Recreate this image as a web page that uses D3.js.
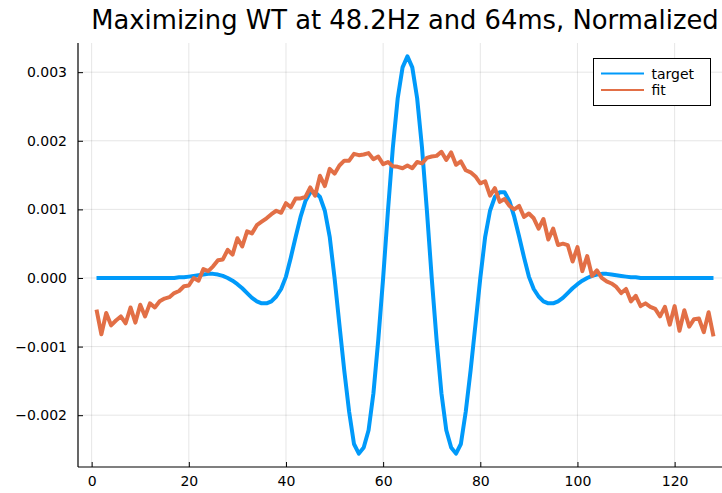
<!DOCTYPE html>
<html>
<head>
<meta charset="utf-8">
<script src="https://cdn.jsdelivr.net/npm/d3@7"></script>
<style>
  html, body { margin: 0; padding: 0; background: #fff; }
  svg { display: block; }
  text { font-family: "DejaVu Sans", sans-serif; fill: #000; }
</style>
</head>
<body>
<div id="chart"></div>
<script>
const titleText = "Maximizing WT at 48.2Hz and 64ms, Normalized";
const seriesNames = ["target", "fit"];
const seriesColors = ["#009AFA", "#E26F46"];

const target = [
  0, 0, 0, 0, 0, 0, 0, 0, 0, 0,
  0, 0, 0, 0, 0, 0, 0, 0.00001, 0.00001, 0.00002,
  0.00003, 0.00004, 0.00005, 0.00006, 0.00006, 0.00005, 0.00003, 0.0, -0.00004, -0.00009,
  -0.00015, -0.00022, -0.00029, -0.00034, -0.00037, -0.00037, -0.00034, -0.00027, -0.00016, 0.00002,
  0.0003, 0.0006, 0.00089, 0.00112, 0.00125, 0.00125, 0.00118, 0.00098, 0.0006, 0.0,
  -0.00068, -0.00135, -0.00195, -0.00242, -0.00256, -0.00247, -0.00222, -0.00168, -0.0009, 0.0,
  0.00099, 0.0019, 0.00262, 0.00307, 0.00323, 0.00307, 0.00262, 0.0019, 0.00099, 0.0,
  -0.0009, -0.00168, -0.00222, -0.00247, -0.00256, -0.00242, -0.00195, -0.00135, -0.00068, 0.0,
  0.0006, 0.00098, 0.00118, 0.00125, 0.00125, 0.00112, 0.00089, 0.0006, 0.0003, 0.00002,
  -0.00016, -0.00027, -0.00034, -0.00037, -0.00037, -0.00034, -0.00029, -0.00022, -0.00015, -0.00009,
  -0.00004, 0.0, 0.00003, 0.00005, 0.00006, 0.00006, 0.00005, 0.00004, 0.00003, 0.00002,
  0.00001, 0.00001, 0, 0, 0, 0, 0, 0, 0, 0,
  0, 0, 0, 0, 0, 0, 0, 0
];

const fit = [
  -0.00046, -0.00082, -0.00051, -0.00069, -0.00062, -0.00056, -0.00066, -0.00043, -0.00065, -0.00039,
  -0.00056, -0.00037, -0.00043, -0.00034, -0.00030, -0.00028, -0.00022, -0.00019, -0.00012, -0.00011,
  0.00000, -0.00004, 0.00013, 0.00010, 0.00017, 0.00026, 0.00027, 0.00041, 0.00034, 0.00058,
  0.00046, 0.00068, 0.00065, 0.00077, 0.00082, 0.00087, 0.00093, 0.00098, 0.00095, 0.00109,
  0.00103, 0.00116, 0.00116, 0.00118, 0.00132, 0.00120, 0.00149, 0.00134, 0.00159, 0.00152,
  0.00164, 0.00171, 0.00171, 0.00181, 0.00179, 0.00180, 0.00182, 0.00173, 0.00177, 0.00166,
  0.00169, 0.00163, 0.00162, 0.00160, 0.00164, 0.00160, 0.00169, 0.00167, 0.00175, 0.00177,
  0.00178, 0.00184, 0.00172, 0.00183, 0.00165, 0.00170, 0.00157, 0.00154, 0.00148, 0.00138,
  0.00141, 0.00120, 0.00131, 0.00111, 0.00115, 0.00105, 0.00100, 0.00105, 0.00089, 0.00094,
  0.00087, 0.00072, 0.00086, 0.00056, 0.00072, 0.00048, 0.00050, 0.00048, 0.00024, 0.00045,
  0.00010, 0.00032, 0.00003, 0.00011, 0.00000, -0.00005, -0.00008, -0.00013, -0.00022, -0.00016,
  -0.00034, -0.00026, -0.00041, -0.00037, -0.00042, -0.00045, -0.00056, -0.00042, -0.00068, -0.00041,
  -0.00077, -0.00047, -0.00071, -0.00060, -0.00059, -0.00079, -0.00050, -0.00085
];

const xTicks = [0, 20, 40, 60, 80, 100, 120];
const yTicks = [-0.002, -0.001, 0.000, 0.001, 0.002, 0.003];
const yTickLabels = ["\u22120.002", "\u22120.001", "0.000", "0.001", "0.002", "0.003"];

const W = 722, H = 493;
const plot = { left: 78, right: 732, top: 43, bottom: 467 };

const svg = d3.select("#chart").append("svg")
  .attr("width", W).attr("height", H)
  .attr("viewBox", `0 0 ${W} ${H}`);
svg.append("rect").attr("width", W).attr("height", H).attr("fill", "#fff");

const n = target.length;
const xPad = (n - 1) * 0.03;
const x = d3.scaleLinear().domain([1 - xPad, n + xPad]).range([plot.left, plot.right]);
const y = d3.scaleLinear().domain([-0.002755, 0.003425]).range([plot.bottom, plot.top]);

// grid
const grid = svg.append("g");
grid.selectAll("line.gx").data(xTicks).enter().append("line")
  .attr("x1", d => x(d)).attr("x2", d => x(d))
  .attr("y1", plot.top).attr("y2", plot.bottom)
  .attr("stroke", "#000").attr("stroke-opacity", 0.1).attr("stroke-width", 1);
grid.selectAll("line.gy").data(yTicks).enter().append("line")
  .attr("x1", plot.left).attr("x2", plot.right)
  .attr("y1", d => y(d)).attr("y2", d => y(d))
  .attr("stroke", "#000").attr("stroke-opacity", 0.1).attr("stroke-width", 1);

// axes
const xAxis = d3.axisBottom(x).tickValues(xTicks).tickSize(-5).tickPadding(9).tickFormat(d3.format("d"));
const yAxis = d3.axisLeft(y).tickValues(yTicks).tickSize(-5).tickPadding(11)
  .tickFormat((d, i) => yTickLabels[i]);

const gx = svg.append("g").attr("transform", `translate(0,${plot.bottom})`).call(xAxis);
const gy = svg.append("g").attr("transform", `translate(${plot.left},0)`).call(yAxis);
[gx, gy].forEach(g => {
  g.select(".domain").attr("stroke", "#000").attr("stroke-width", 1.2);
  g.selectAll(".tick line").attr("stroke", "#000").attr("stroke-width", 1);
  g.selectAll(".tick text").attr("font-family", "DejaVu Sans").attr("font-size", 14).attr("fill", "#000");
});
gy.select(".domain").attr("d", `M0,${plot.top}V${plot.bottom}`);
gx.select(".domain").attr("d", `M${plot.left},0H${plot.right}`);

// lines
const series = [target, fit];
const line = d3.line().x((d, i) => x(i + 1)).y(d => y(d));
series.forEach((s, k) => {
  svg.append("path").datum(s)
    .attr("fill", "none")
    .attr("stroke", seriesColors[k])
    .attr("stroke-width", 4)
    .attr("stroke-linejoin", "round")
    .attr("d", line);
});

// title
svg.append("text").attr("x", (plot.left + plot.right) / 2).attr("y", 29)
  .attr("text-anchor", "middle").attr("font-size", 25.8).text(titleText);

// legend
const lg = svg.append("g");
lg.append("rect").attr("x", 593.5).attr("y", 58.5).attr("width", 117).attr("height", 47)
  .attr("fill", "#fff").attr("stroke", "#000").attr("stroke-width", 1);
seriesNames.forEach((name, k) => {
  const yy = 73.5 + k * 16.5;
  lg.append("line").attr("x1", 601).attr("x2", 644).attr("y1", yy).attr("y2", yy)
    .attr("stroke", seriesColors[k]).attr("stroke-width", 2);
  lg.append("text").attr("x", 651.5).attr("y", yy + 5).attr("font-size", 14).text(name);
});
</script>
</body>
</html>
